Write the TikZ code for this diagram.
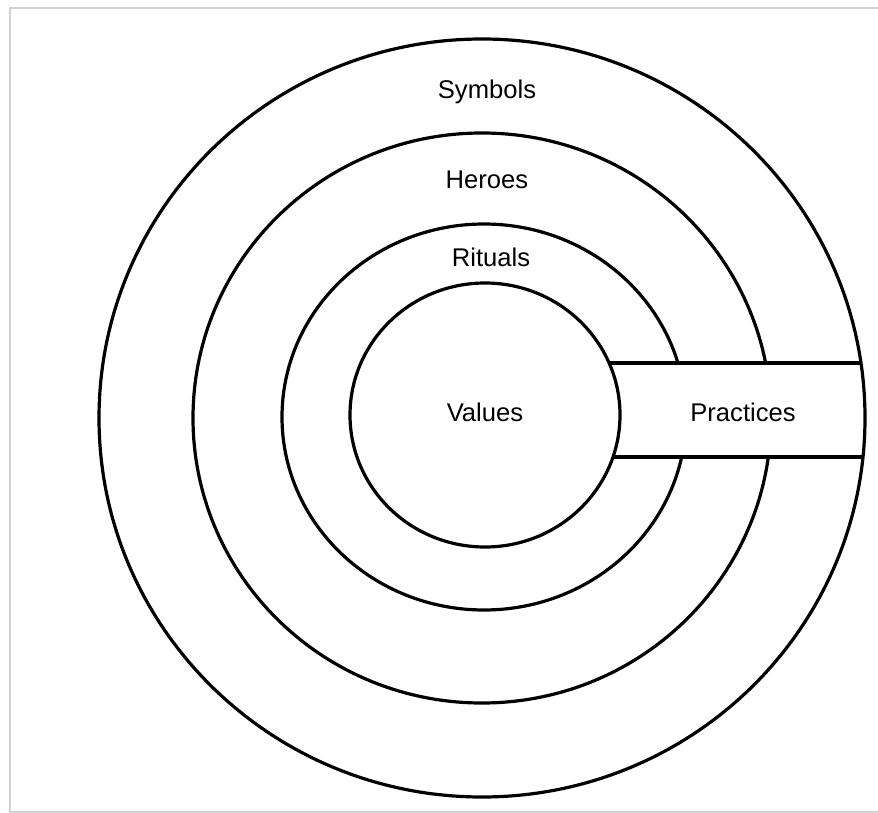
\documentclass[tikz,border=0pt]{standalone}
\usepackage{fontspec}
\setmainfont{Liberation Sans}

\begin{document}
\begin{tikzpicture}[x=0.5pt,y=0.5pt,
    ring/.style={draw=black, line width=1.6pt},
    tag/.style={font=\fontsize{12.8}{15}\selectfont}]

  \useasboundingbox (0,0) rectangle (878,-813);
  \draw[gray!35, line width=1pt] (10,-8) rectangle (900,-812);

  % the four layers, outside in
  \foreach\name/\cx/\cy/\rx/\ry in {symbols/482/-418/383/379, heroes/482/-418/289/285,
      rituals/484/-417/202/193, values/485/-415/135/132}{
  	\draw[ring] (\cx,\cy) ellipse [x radius=\rx, y radius=\ry];
  }

  % practices band cuts through heroes and rituals
  \fill[white] (626,-364) rectangle (852,-456);
  \coordinate (vtop) at (609,-363);
  \coordinate (otop) at (862,-363);
  \coordinate (vbot) at (613,-457);
  \coordinate (obot) at (864,-457);
  \draw[ring] (vtop) -- (otop);
  \draw[ring] (vbot) -- (obot);

  \node[tag] (symbolslbl) at (487,-92) {Symbols};
  \node[tag] (heroeslbl) at (487,-180) {Heroes};
  \node[tag] (ritualslbl) at (491,-257) {Rituals};
  \node[tag] (valueslbl) at (485,-412) {Values};
  \node[tag] (practiceslbl) at (743,-412) {Practices};
  \end{tikzpicture}
\end{document}
